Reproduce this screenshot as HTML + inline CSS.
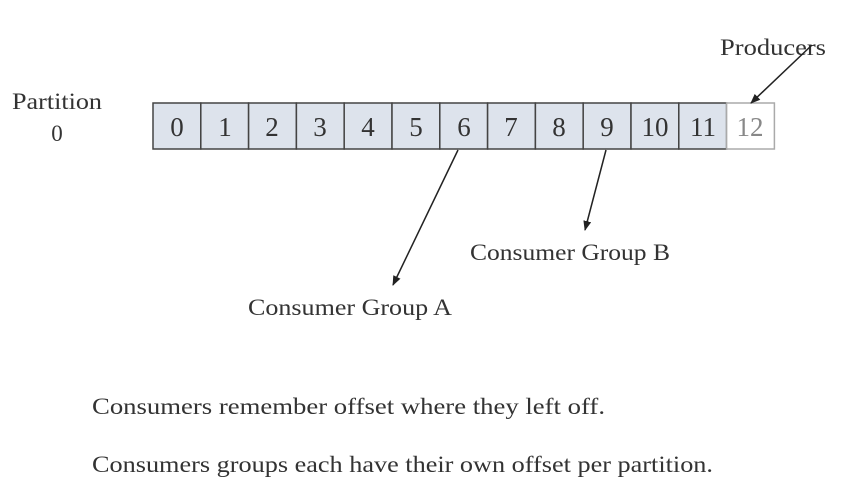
<!DOCTYPE html>
<html><head><style>
html,body{margin:0;padding:0;background:#fff;width:851px;height:491px;overflow:hidden}
svg{display:block}
text{font-family:"Liberation Serif",serif;fill:#333}
</style></head><body>
<svg width="851" height="491" viewBox="0 0 851 491">
<defs><marker id="a" markerWidth="10" markerHeight="10" refX="9" refY="5" orient="auto" markerUnits="userSpaceOnUse"><path d="M0,1 L10,5 L0,9 z" fill="#222"/></marker></defs>
<text x="12" y="109" font-size="23" textLength="90" lengthAdjust="spacingAndGlyphs">Partition</text>
<text x="57" y="141" font-size="23" text-anchor="middle">0</text>
<g stroke="#444" stroke-width="1.5" fill="#dde3ec">
<rect x="153" y="103" width="47.8" height="46"/><rect x="200.8" y="103" width="47.8" height="46"/><rect x="248.6" y="103" width="47.8" height="46"/><rect x="296.4" y="103" width="47.8" height="46"/><rect x="344.2" y="103" width="47.8" height="46"/><rect x="392" y="103" width="47.8" height="46"/><rect x="439.8" y="103" width="47.8" height="46"/><rect x="487.6" y="103" width="47.8" height="46"/><rect x="535.4" y="103" width="47.8" height="46"/><rect x="583.2" y="103" width="47.8" height="46"/><rect x="631" y="103" width="47.8" height="46"/><rect x="678.8" y="103" width="47.8" height="46"/>
</g>
<rect x="726.6" y="103" width="47.8" height="46" fill="#fff" stroke="#aaa" stroke-width="1.5"/>
<g font-size="27" text-anchor="middle">
<text x="177" y="136">0</text><text x="225" y="136">1</text><text x="272" y="136">2</text><text x="320" y="136">3</text><text x="368" y="136">4</text><text x="416" y="136">5</text><text x="464" y="136">6</text><text x="511" y="136">7</text><text x="559" y="136">8</text><text x="607" y="136">9</text><text x="655" y="136">10</text><text x="703" y="136">11</text><text x="750" y="136" style="fill:#888">12</text>
</g>
<text x="720" y="55" font-size="23" textLength="106" lengthAdjust="spacingAndGlyphs">Producers</text>
<g stroke="#222" stroke-width="1.5">
<line x1="812" y1="45" x2="751" y2="103" marker-end="url(#a)"/>
<line x1="458" y1="150" x2="393" y2="285" marker-end="url(#a)"/>
<line x1="606" y1="150" x2="585" y2="230" marker-end="url(#a)"/>
</g>
<text x="470" y="260" font-size="23" textLength="200" lengthAdjust="spacingAndGlyphs">Consumer Group B</text>
<text x="248" y="315" font-size="23" textLength="204" lengthAdjust="spacingAndGlyphs">Consumer Group A</text>
<text x="92" y="414" font-size="23" textLength="513" lengthAdjust="spacingAndGlyphs">Consumers remember offset where they left off.</text>
<text x="92" y="472" font-size="23" textLength="621" lengthAdjust="spacingAndGlyphs">Consumers groups each have their own offset per partition.</text>
</svg>
</body></html>
